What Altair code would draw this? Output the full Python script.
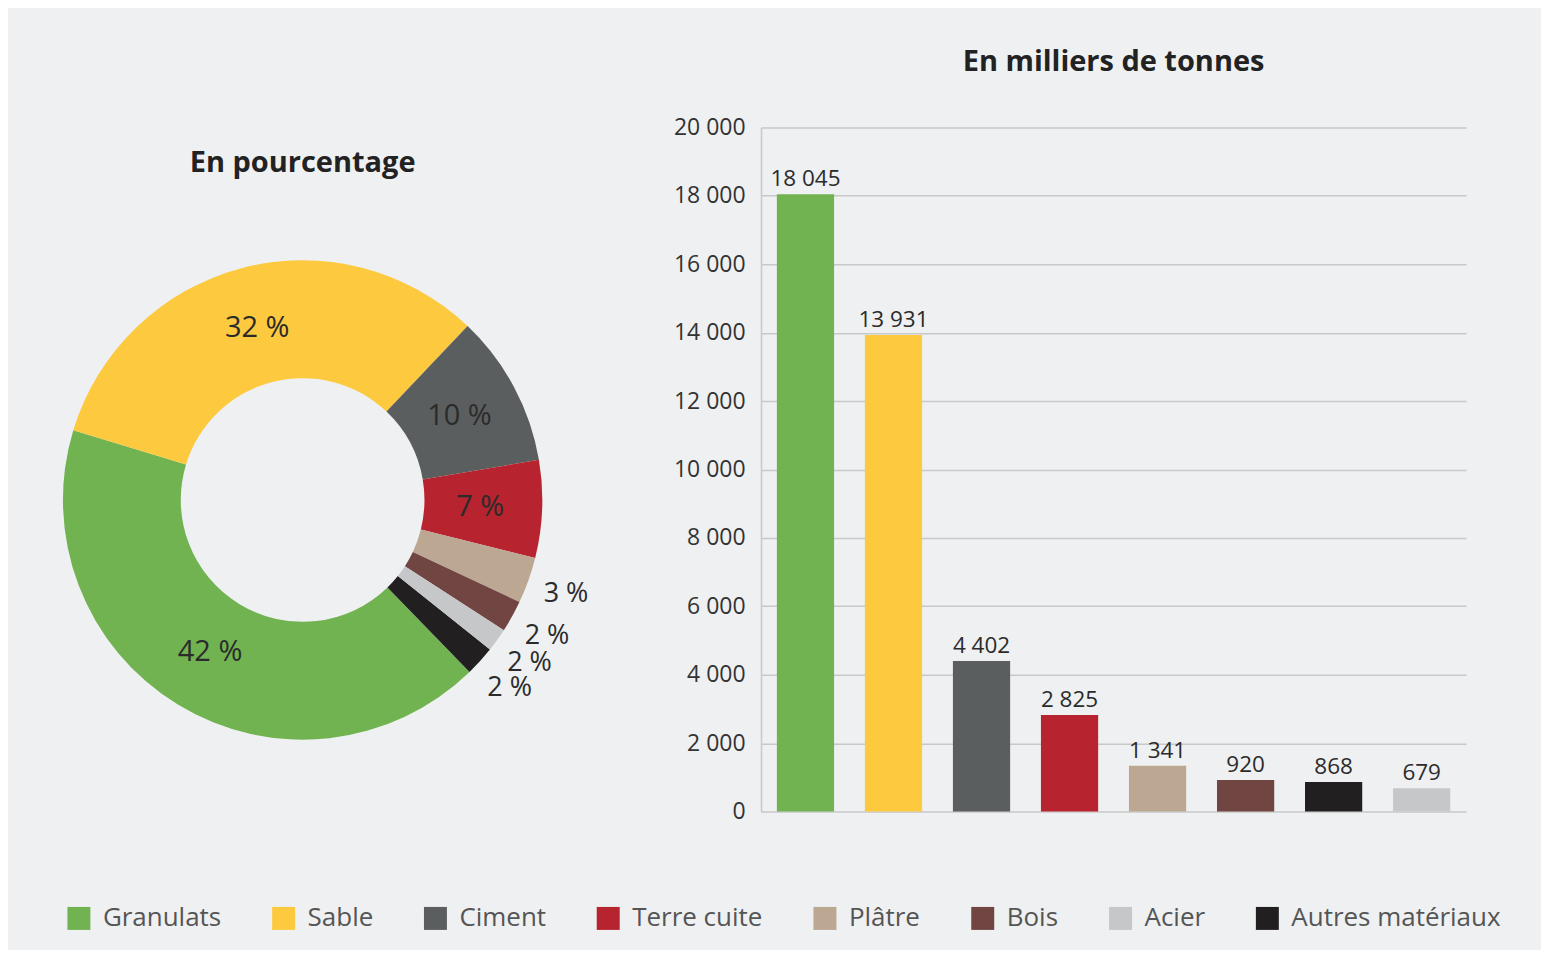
import math
import altair as alt
import pandas as pd

# ---- data ----
materials = ["Granulats", "Sable", "Ciment", "Terre cuite", "Plâtre", "Bois", "Autres matériaux", "Acier"]
tonnes = [18045, 13931, 4402, 2825, 1341, 920, 868, 679]
percents = [42, 32, 10, 7, 3, 2, 2, 2]
legend_order = ["Granulats", "Sable", "Ciment", "Terre cuite", "Plâtre", "Bois", "Acier", "Autres matériaux"]
colors = ["#71b351", "#fdc93e", "#5b5e5f", "#b7232f", "#bca892", "#714541", "#c6c7c9", "#221f20"]
donut_order = ["Ciment", "Terre cuite", "Plâtre", "Bois", "Acier", "Autres matériaux", "Granulats", "Sable"]
y_ticks = list(range(0, 20001, 2000))

df = pd.DataFrame({"material": materials, "tonnes": tonnes, "pct": percents})
df["value_label"] = [f"{v:,}".replace(",", " ") for v in tonnes]
df["pct_label"] = [f"{p} %" for p in percents]
df["slice"] = [donut_order.index(m) for m in materials]

FONT = "Open Sans"
START = math.radians(43.5)

color = alt.Color(
    "material:N",
    scale=alt.Scale(domain=legend_order, range=colors),
    legend=alt.Legend(
        title=None, orient="none", legendX=58, legendY=779, direction="horizontal",
        columns=8, symbolType="square", symbolSize=529, symbolStrokeWidth=0,
        labelFontSize=26, labelFont=FONT, labelColor="#555555", labelOffset=11,
        columnPadding=49, labelLimit=400,
    ),
)

# ---- donut ----
base = alt.Chart(df).encode(
    theta=alt.Theta("tonnes:Q", stack=True, scale=alt.Scale(range=[START, START + 2 * math.pi])),
    order=alt.Order("slice:Q", sort="ascending"),
)
arcs = base.mark_arc(outerRadius=240, innerRadius=122).encode(color=color)
inside = base.mark_text(radius=178, fontSize=29, font=FONT, fontWeight=500, color="#2b2b2b").encode(
    text=alt.condition("datum.pct >= 5", alt.Text("pct_label:N"), alt.value(""))
)
outside = base.mark_text(radius=280, fontSize=27, font=FONT, fontWeight=500, color="#2b2b2b").encode(
    text=alt.condition("datum.pct < 5", alt.Text("pct_label:N"), alt.value(""))
)
donut = alt.layer(arcs, inside, outside).properties(
    width=590, height=746,
    title=alt.TitleParams("En pourcentage", offset=-51, fontSize=29, font=FONT,
                          fontWeight="bold", color="#222222", anchor="middle"),
)

# ---- bars ----
xenc = alt.X("material:N", sort=materials, axis=None,
             scale=alt.Scale(paddingInner=0.35, paddingOuter=0.18))
bars = alt.Chart(df).mark_bar().encode(
    x=xenc,
    y=alt.Y("tonnes:Q", scale=alt.Scale(domain=[0, 20000]),
            axis=alt.Axis(values=y_ticks, title=None, ticks=False, domain=True,
                          domainColor="#c8c8c8", domainWidth=1.5,
                          gridColor="#c8c8c8", gridWidth=1.5,
                          labelFont=FONT, labelFontSize=23, labelColor="#333333",
                          labelPadding=16,
                          labelExpr="replace(format(datum.value, ','), regexp(',', 'g'), ' ')")),
    color=color,
)
bar_labels = alt.Chart(df).mark_text(dy=-3, baseline="bottom", fontSize=22.5, font=FONT,
                                     fontWeight=500, color="#2b2b2b").encode(
    x=xenc, y=alt.Y("tonnes:Q"), text="value_label:N"
)
barchart = alt.layer(bars, bar_labels).properties(
    width=706, height=685,
    title=alt.TitleParams("En milliers de tonnes", offset=40, fontSize=29, font=FONT,
                          fontWeight="bold", color="#222222", anchor="middle"),
)

chart = alt.hconcat(donut, barchart, spacing=164, bounds="flush").properties(
    background="#eff0f2",
    padding={"top": 39, "left": 0, "right": 40, "bottom": 18},
).configure_view(stroke=None)

chart.save("out.html", embed_options={"renderer": "svg", "actions": False})
